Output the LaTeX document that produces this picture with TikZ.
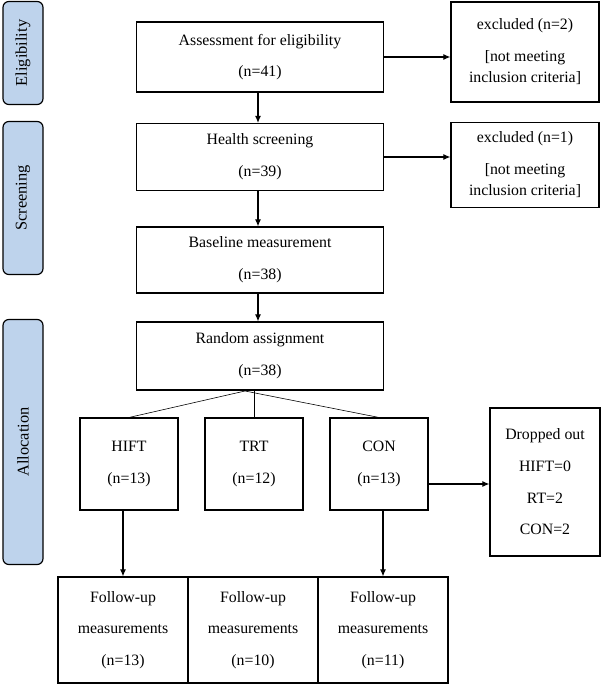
\documentclass[tikz,border=0pt]{standalone}
\usepackage{fontspec}
\setmainfont{Liberation Serif}
\usetikzlibrary{arrows.meta, positioning}
\tikzset{
  box/.style={draw, line width=0.9pt, align=center, inner sep=0pt, font=\fontsize{13.5}{27}\selectfont},
  side/.style={draw, line width=1pt, rounded corners=5pt, fill={rgb,255:red,190;green,211;blue,236}, rotate=90, font=\fontsize{14}{16}\selectfont},
  arr/.style={line width=0.9pt, -{Latex[length=6pt,width=5pt]}},
  ln/.style={line width=0.5pt}
}
\begin{document}
\begin{tikzpicture}[x=0.03cm, y=-0.03cm]
\useasboundingbox (0,0) rectangle (607,685);
% side labels
\node[side, minimum width=103*0.03cm, minimum height=40*0.03cm] (elig) at (23,53) {Eligibility};
\node[side, minimum width=153*0.03cm, minimum height=40*0.03cm] (scr) at (23,198) {Screening};
\node[side, minimum width=245*0.03cm, minimum height=40*0.03cm] (alloc) at (23,442) {Allocation};
% main column
\node[box, minimum width=247*0.03cm, minimum height=70*0.03cm] (assess) at (260,57) {Assessment for eligibility\\(n=41)};
\node[box, minimum width=247*0.03cm, minimum height=67*0.03cm] (health) at (260,157) {Health screening\\(n=39)};
\node[box, minimum width=247*0.03cm, minimum height=66*0.03cm] (base) at (260,260) {Baseline measurement\\(n=38)};
\node[box, minimum width=247*0.03cm, minimum height=68*0.03cm] (rand) at (260,356) {Random assignment\\(n=38)};
% exclusions
\node[box, minimum width=148*0.03cm, minimum height=100*0.03cm, font=\fontsize{13.5}{18}\selectfont] (ex1) at (525,52) {excluded (n=2)\\[1.5ex][not meeting\\inclusion criteria]};
\node[box, minimum width=148*0.03cm, minimum height=85*0.03cm, font=\fontsize{13.5}{18}\selectfont] (ex2) at (525,165) {excluded (n=1)\\[1.5ex][not meeting\\inclusion criteria]};
% groups
\node[box, minimum width=98*0.03cm, minimum height=92*0.03cm] (hift) at (129,464) {HIFT\\(n=13)};
\node[box, minimum width=98*0.03cm, minimum height=92*0.03cm] (trt) at (254,464) {TRT\\(n=12)};
\node[box, minimum width=98*0.03cm, minimum height=92*0.03cm] (con) at (379,464) {CON\\(n=13)};
\node[box, minimum width=110*0.03cm, minimum height=148*0.03cm] (drop) at (545,482) {Dropped out\\HIFT=0\\RT=2\\CON=2};
% follow-up
\node[box, minimum width=130*0.03cm, minimum height=106*0.03cm] (fu1) at (123,630) {Follow-up\\measurements\\(n=13)};
\node[box, minimum width=130*0.03cm, minimum height=106*0.03cm] (fu2) at (253,630) {Follow-up\\measurements\\(n=10)};
\node[box, minimum width=130*0.03cm, minimum height=106*0.03cm] (fu3) at (383,630) {Follow-up\\measurements\\(n=11)};
% connectors
\draw[arr] (assess) -- (ex1.west |- assess);
\draw[arr] (health) -- (ex2.west |- health);
\draw[arr] (assess.south -| 258,0) -- (health.north -| 258,0);
\draw[arr] (health.south -| 258,0) -- (base.north -| 258,0);
\draw[arr] (base.south -| 258,0) -- (rand.north -| 258,0);
\coordinate (split) at (245,391);
\draw[ln] (split) -- (hift.north);
\draw[ln] (split -| trt) -- (trt.north);
\draw[ln] (split) -- (con.north);
\draw[arr] (con.east |- 0,484) -- (drop.west |- 0,484);
\draw[arr] (hift.south -| fu1) -- (fu1.north);
\draw[arr] (con.south -| fu3) -- (fu3.north);
\end{tikzpicture}
\end{document}
